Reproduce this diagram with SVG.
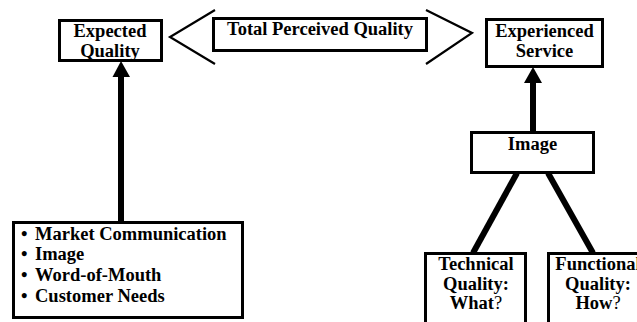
<svg xmlns="http://www.w3.org/2000/svg" width="637" height="322" viewBox="0 0 637 322">
<style>
.box{fill:#fff;stroke:#000;stroke-width:3}
.t{font-family:"Liberation Serif","Times New Roman",serif;font-weight:bold;font-size:18.5px;fill:#000}
.c{text-anchor:middle}
.n{font-weight:normal}
.chev{fill:none;stroke:#000;stroke-width:2.2}
.thick{fill:none;stroke:#000;stroke-width:6}
</style>
<rect width="637" height="322" fill="#fff"/>
<g id="connectors">
<polyline class="chev" points="215,10 170,37 215,64"/>
<polyline class="chev" points="426,10 472,33 426,64"/>
<line class="thick" x1="121" y1="222" x2="121" y2="74"/>
<polygon points="121,61 112.5,77 130,77" fill="#000"/>
<line class="thick" x1="533" y1="132" x2="533" y2="80"/>
<polygon points="533,67 524,83 542,83" fill="#000"/>
<line class="thick" x1="517" y1="173" x2="473" y2="253"/>
<line class="thick" x1="548" y1="173" x2="593" y2="253"/>
</g>
<g id="expected">
<rect class="box" x="59.5" y="20.5" width="102" height="40"/>
<text class="t c" x="110" y="37">Expected</text>
<text class="t c" x="110" y="57">Quality</text>
</g>
<g id="total">
<rect class="box" x="213.5" y="18.5" width="213" height="32"/>
<text class="t c" x="320" y="35">Total Perceived Quality</text>
</g>
<g id="experienced">
<rect class="box" x="486.5" y="19.5" width="116" height="47"/>
<text class="t c" x="544.5" y="37">Experienced</text>
<text class="t c" x="544.5" y="57">Service</text>
</g>
<g id="factors">
<rect class="box" x="13.5" y="222.5" width="229" height="95"/>
<text class="t" x="21" y="240">•<tspan x="35">Market Communication</tspan></text>
<text class="t" x="21" y="260">•<tspan x="35">Image</tspan></text>
<text class="t" x="21" y="281">•<tspan x="35">Word-of-Mouth</tspan></text>
<text class="t" x="21" y="302">•<tspan x="35">Customer Needs</tspan></text>
</g>
<g id="image">
<rect class="box" x="471.5" y="132.5" width="122" height="40"/>
<text class="t c" x="532.5" y="150">Image</text>
</g>
<g id="technical">
<rect class="box" x="425.5" y="253.5" width="100" height="80"/>
<text class="t c" x="476" y="270">Technical</text>
<text class="t c" x="476" y="290">Quality:</text>
<text class="t c" x="476" y="309">What<tspan class="n">?</tspan></text>
</g>
<g id="functional">
<rect class="box" x="548.5" y="253.5" width="100" height="80"/>
<text class="t c" x="598" y="270">Functional</text>
<text class="t c" x="598" y="290">Quality:</text>
<text class="t c" x="598" y="309">How<tspan class="n">?</tspan></text>
</g>
</svg>
